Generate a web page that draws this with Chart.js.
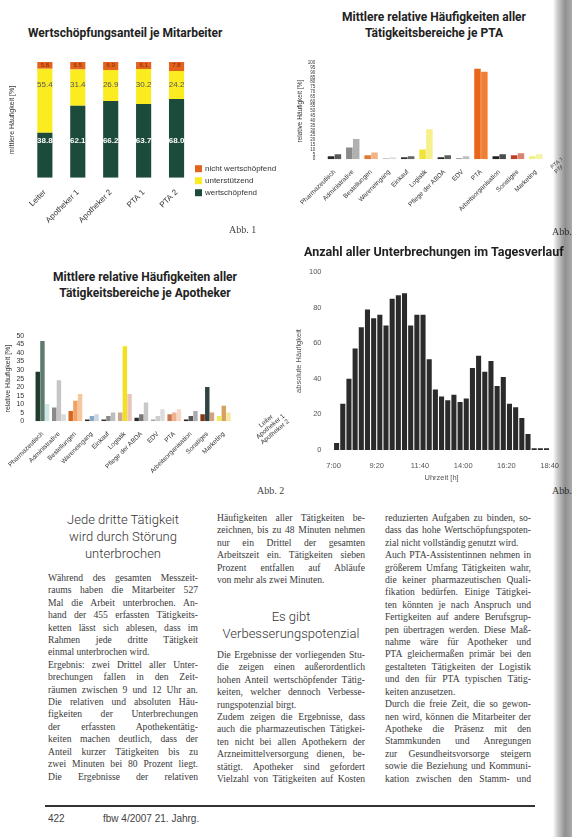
<!DOCTYPE html>
<html lang="de">
<head>
<meta charset="UTF-8">
<title>Wertschöpfung und Unterbrechungen in der Apotheke</title>
<script src="https://cdn.jsdelivr.net/npm/chart.js"></script>
<style>
    body { margin: 0; width: 572px; height: 837px; position: relative; overflow: hidden; background: #fff; color: #333; font-family: 'Liberation Serif', serif; }
    .box { position: absolute; }
    .ctitle { position: absolute; font-family: Roboto, 'Liberation Sans', sans-serif; font-weight: bold; font-size: 12px; line-height: 16px; color: #222; text-align: center; white-space: nowrap; }
    .cap { position: absolute; font-size: 10px; color: #444; white-space: nowrap; }
    .col { position: absolute; font-size: 9.6px; line-height: 12.4px; color: #3a3a3a; }
    .col div { text-align: justify; text-align-last: justify; white-space: nowrap; overflow: hidden; }
    .col div.end { text-align-last: left; }
    .head { position: absolute; font-family: Roboto, 'Liberation Sans', sans-serif; font-weight: 300; font-size: 13px; line-height: 17px; text-align: center; color: #333; }
    .rule { position: absolute; left: 45px; top: 805px; width: 490px; height: 2px; background: #333; }
    .foot { position: absolute; top: 813px; font-family: 'Liberation Sans', sans-serif; font-size: 10px; color: #444; }
    .shade { position: absolute; left: 553px; top: 0; width: 19px; height: 837px; mix-blend-mode: multiply;
             background: linear-gradient(to right, rgba(255,255,255,0) 0, #d2d2d2 4px, #a8a8a8 9px, #909090 12px, #aaaaaa 19px); }
</style>
</head>
<body>

<div class="ctitle" style="left:28px; top:25px;">Wertschöpfungsanteil je Mitarbeiter</div>
<div class="box" style="left:0; top:50px; width:282px; height:181px;"><canvas id="chartShare"></canvas></div>
<div class="cap" style="left:229px; top:224px;">Abb. 1</div>

<div class="ctitle" style="left:334px; top:9px; width:200px;">Mittlere relative Häufigkeiten aller<br>Tätigkeitsbereiche je PTA</div>
<div class="box" style="left:290px; top:44px; width:272px; height:172px;"><canvas id="chartPta"></canvas></div>
<div class="cap" style="left:552px; top:226px;">Abb. 3</div>

<div class="ctitle" style="left:45px; top:269px; width:200px;">Mittlere relative Häufigkeiten aller<br>Tätigkeitsbereiche je Apotheker</div>
<div class="box" style="left:0; top:300px; width:290px; height:178px;"><canvas id="chartApo"></canvas></div>
<div class="cap" style="left:257px; top:485px;">Abb. 2</div>

<div class="ctitle" style="left:304px; top:244px; font-size:12.5px;">Anzahl aller Unterbrechungen im Tagesverlauf</div>
<div class="box" style="left:290px; top:262px; width:272px; height:220px;"><canvas id="chartBreaks"></canvas></div>
<div class="cap" style="left:552px; top:485px;">Abb. 4</div>

<div class="head" style="left:48px; top:511px; width:150px;">Jede dritte Tätigkeit<br>wird durch Störung<br>unterbrochen</div>

<div class="col" style="left:48px; top:572px; width:150px;">
    <div>Während des gesamten Messzeit-</div>
    <div>raums haben die Mitarbeiter 527</div>
    <div>Mal die Arbeit unterbrochen. An-</div>
    <div>hand der 455 erfassten Tätigkeits-</div>
    <div>ketten lässt sich ablesen, dass im</div>
    <div>Rahmen jede dritte Tätigkeit</div>
    <div class="end">einmal unterbrochen wird.</div>
    <div>Ergebnis: zwei Drittel aller Unter-</div>
    <div>brechungen fallen in den Zeit-</div>
    <div>räumen zwischen 9 und 12 Uhr an.</div>
    <div>Die relativen und absoluten Häu-</div>
    <div>figkeiten der Unterbrechungen</div>
    <div>der erfassten Apothekentätig-</div>
    <div>keiten machen deutlich, dass der</div>
    <div>Anteil kurzer Tätigkeiten bis zu</div>
    <div>zwei Minuten bei 80 Prozent liegt.</div>
    <div>Die Ergebnisse der relativen</div>
</div>

<div class="col" style="left:217px; top:512px; width:148px;">
    <div>Häufigkeiten aller Tätigkeiten be-</div>
    <div>zeichnen, bis zu 48 Minuten nehmen</div>
    <div>nur ein Drittel der gesamten</div>
    <div>Arbeitszeit ein. Tätigkeiten sieben</div>
    <div>Prozent entfallen auf Abläufe</div>
    <div class="end">von mehr als zwei Minuten.</div>
</div>

<div class="head" style="left:217px; top:608px; width:148px;">Es gibt<br>Verbesserungspotenzial</div>

<div class="col" style="left:217px; top:649px; width:148px;">
    <div>Die Ergebnisse der vorliegenden Stu-</div>
    <div>die zeigen einen außerordentlich</div>
    <div>hohen Anteil wertschöpfender Tätig-</div>
    <div>keiten, welcher dennoch Verbesse-</div>
    <div class="end">rungspotenzial birgt.</div>
    <div>Zudem zeigen die Ergebnisse, dass</div>
    <div>auch die pharmazeutischen Tätigkei-</div>
    <div>ten nicht bei allen Apothekern der</div>
    <div>Arzneimittelversorgung dienen, be-</div>
    <div>stätigt. Apotheker sind gefordert</div>
    <div>Vielzahl von Tätigkeiten auf Kosten</div>
</div>

<div class="col" style="left:385px; top:512px; width:146px;">
    <div>reduzierten Aufgaben zu binden, so-</div>
    <div>dass das hohe Wertschöpfungspoten-</div>
    <div class="end">zial nicht vollständig genutzt wird.</div>
    <div>Auch PTA-Assistentinnen nehmen in</div>
    <div>größerem Umfang Tätigkeiten wahr,</div>
    <div>die keiner pharmazeutischen Quali-</div>
    <div>fikation bedürfen. Einige Tätigkei-</div>
    <div>ten könnten je nach Anspruch und</div>
    <div>Fertigkeiten auf andere Berufsgrup-</div>
    <div>pen übertragen werden. Diese Maß-</div>
    <div>nahme wäre für Apotheker und</div>
    <div>PTA gleichermaßen primär bei den</div>
    <div>gestalteten Tätigkeiten der Logistik</div>
    <div>und den für PTA typischen Tätig-</div>
    <div class="end">keiten anzusetzen.</div>
    <div>Durch die freie Zeit, die so gewon-</div>
    <div>nen wird, können die Mitarbeiter der</div>
    <div>Apotheke die Präsenz mit den</div>
    <div>Stammkunden und Anregungen</div>
    <div>zur Gesundheitsvorsorge steigern</div>
    <div>sowie die Beziehung und Kommuni-</div>
    <div>kation zwischen den Stamm- und</div>
</div>

<div class="rule"></div>
<div class="foot" style="left:48px;">422</div>
<div class="foot" style="left:103px;">fbw 4/2007 21. Jahrg.</div>
<div class="shade"></div>

<script>
    // Abb. 1 - Wertschöpfungsanteil je Mitarbeiter (%)
    const staff = ['Leiter', 'Apotheker 1', 'Apotheker 2', 'PTA 1', 'PTA 2'];
    const valueAdding = [38.8, 62.1, 66.2, 63.7, 68.0];
    const supporting = [55.4, 31.4, 26.9, 30.2, 24.2];
    const nonValue = [5.8, 6.5, 6.9, 6.1, 7.8];

    // Abb. 2 / 3 - mittlere relative Häufigkeiten je Tätigkeitsbereich (%)
    const areas = ['Pharmazeutisch', 'Administrative', 'Bestellungen', 'Wareneingang', 'Einkauf', 'Logistik',
        'Pflege der ABDA', 'EDV', 'PTA', 'Arbeitsorganisation', 'Sonstiges', 'Marketing'];
    const leiter = [29, 8, 6, 1, 1, 5, 2, 1, 4, 1, 4, 3];
    const apotheker1 = [47, 24, 12, 3, 3, 44, 4, 3, 5, 3, 20, 9];
    const apotheker2 = [10, 4, 16, 4, 5, 16, 11, 7, 7, 6, 5, 5];
    const pta1 = [3, 12, 4, 1, 2, 10, 2, 1, 94, 3, 4, 3];
    const pta2 = [5, 21, 7, 2, 3, 31, 4, 3, 91, 5, 6, 5];

    // Abb. 4 - Unterbrechungen je 20-Minuten-Intervall
    const binStart = ['7:00', '7:20', '7:40', '8:00', '8:20', '8:40', '9:00', '9:20', '9:40', '10:00',
        '10:20', '10:40', '11:00', '11:20', '11:40', '12:00', '12:20', '12:40', '13:00', '13:20',
        '13:40', '14:00', '14:20', '14:40', '15:00', '15:20', '15:40', '16:00', '16:20', '16:40',
        '17:00', '17:20', '17:40', '18:00', '18:20'];
    const interruptions = [4, 26, 40, 57, 69, 79, 74, 76, 70, 85,
        87, 88, 70, 76, 76, 51, 34, 30, 28, 31,
        27, 29, 46, 53, 44, 50, 36, 41, 26, 24,
        18, 9, 1, 1, 1];

    Chart.defaults.font.family = "'Liberation Sans', 'DejaVu Sans', sans-serif";
    Chart.defaults.color = '#333';
    Chart.defaults.animation = false;
    Chart.defaults.plugins.legend.display = false;
    Chart.defaults.plugins.tooltip.enabled = false;

    const noGrid = { display: false };
    const noBorder = { display: false };

    // Werte in die Segmente schreiben
    const segLabels = {
        id: 'segLabels',
        afterDatasetsDraw(chart) {
            const ctx = chart.ctx;
            const y = chart.scales.y;
            chart.data.datasets.forEach((ds, i) => {
                chart.getDatasetMeta(i).data.forEach((bar, j) => {
                    ctx.save();
                    ctx.font = ds.labelFont;
                    ctx.fillStyle = ds.labelColor;
                    ctx.textAlign = 'center';
                    ctx.textBaseline = 'middle';
                    ctx.fillText(ds.data[j].toFixed(1), bar.x, y.getPixelForValue(ds.labelPos));
                    ctx.restore();
                });
            });
        }
    };

    // Legende mit Kästchen rechts unten neben den Balken
    const boxLegend = {
        id: 'boxLegend',
        afterDraw(chart, args, opts) {
            const ctx = chart.ctx;
            const x0 = chart.chartArea.right + opts.dx;
            let y0 = chart.chartArea.bottom + opts.dy;
            ctx.save();
            ctx.font = opts.font;
            ctx.textBaseline = 'middle';
            chart.data.datasets.slice().reverse().forEach(ds => {
                ctx.fillStyle = ds.backgroundColor;
                ctx.fillRect(x0, y0 - 3.5, 7, 7);
                ctx.fillStyle = '#333';
                ctx.fillText(ds.label, x0 + 10, y0);
                y0 += opts.lineHeight;
            });
            ctx.restore();
        }
    };

    // schräg gestellte Legende am Ende der Rubrikenachse (wie im 3D-Diagramm)
    const slantLegend = {
        id: 'slantLegend',
        afterDraw(chart, args, opts) {
            const ctx = chart.ctx;
            ctx.save();
            ctx.translate(chart.chartArea.right + opts.dx, chart.chartArea.bottom + opts.dy);
            ctx.rotate(-opts.angle * Math.PI / 180);
            ctx.font = opts.font;
            ctx.fillStyle = '#333';
            ctx.textAlign = 'center';
            ctx.textBaseline = 'middle';
            chart.data.datasets.forEach((ds, i) => ctx.fillText(ds.label, 0, i * opts.lineHeight));
            ctx.restore();
        }
    };

    new Chart(document.getElementById('chartShare'), {
        type: 'bar',
        data: {
            labels: staff,
            datasets: [
                { label: 'wertschöpfend', data: valueAdding, backgroundColor: '#1d4b3b',
                  labelPos: 32, labelColor: '#ffffff', labelFont: 'bold 8px Liberation Sans' },
                { label: 'unterstützend', data: supporting, backgroundColor: '#fbec22',
                  labelPos: 80, labelColor: '#555', labelFont: '8px Liberation Sans' },
                { label: 'nicht wertschöpfend', data: nonValue, backgroundColor: '#e3621e',
                  labelPos: 97, labelColor: '#7a2a08', labelFont: '6px Liberation Sans' }
            ]
        },
        options: {
            responsive: true,
            maintainAspectRatio: false,
            layout: { padding: { left: 4, right: 89, top: 12, bottom: 4 } },
            datasets: { bar: { barPercentage: 0.46, categoryPercentage: 1 } },
            scales: {
                x: { stacked: true, grid: noGrid, border: noBorder,
                     ticks: { maxRotation: 45, minRotation: 45, font: { size: 8 }, padding: 2 } },
                y: { stacked: true, min: 0, max: 100, grid: noGrid, border: noBorder,
                     ticks: { display: false },
                     title: { display: true, text: 'mittlere Häufigkeit [%]', font: { size: 7 }, padding: 4 } }
            },
            plugins: {
                boxLegend: { dx: 2, dy: -9, lineHeight: 12, font: '8px Liberation Sans' }
            }
        },
        plugins: [segLabels, boxLegend]
    });

    const ptaColors = [
        ['#2a2a2a', '#5a5a5a'], ['#8a8a8a', '#b0b0b0'], ['#e07a36', '#f2b487'], ['#bdbdbd', '#dedede'],
        ['#333333', '#666666'], ['#f2e33a', '#f7f08a'], ['#262626', '#5e5e5e'], ['#8c8c8c', '#c0c0c0'],
        ['#e8661a', '#f07f35'], ['#222222', '#4a4a4a'], ['#c23d2a', '#d88472'], ['#eef07c', '#f4f4a8']
    ];

    new Chart(document.getElementById('chartPta'), {
        type: 'bar',
        data: {
            labels: areas,
            datasets: [
                { label: 'PTA 1', data: pta1, backgroundColor: ptaColors.map(c => c[0]) },
                { label: 'PTA 2', data: pta2, backgroundColor: ptaColors.map(c => c[1]) }
            ]
        },
        options: {
            responsive: true,
            maintainAspectRatio: false,
            layout: { padding: { left: 4, right: 17, top: 19, bottom: 2 } },
            datasets: { bar: { barPercentage: 0.95, categoryPercentage: 0.75 } },
            scales: {
                x: { grid: noGrid, border: noBorder,
                     ticks: { maxRotation: 45, minRotation: 45, font: { size: 6.5 }, padding: 1, autoSkip: false } },
                y: { min: 0, max: 100, grid: noGrid, border: noBorder,
                     ticks: { stepSize: 5, autoSkip: false, font: { size: 4.5 }, padding: 2 },
                     title: { display: true, text: 'relative Häufigkeit [%]', font: { size: 6.5 }, padding: 2 } }
            },
            plugins: {
                slantLegend: { dx: 12, dy: 4, angle: 40, lineHeight: 6, font: '5.5px Liberation Sans' }
            }
        },
        plugins: [slantLegend]
    });

    const apoColors = [
        ['#1f3a2e', '#5e7b6e', '#cfe6e6'], ['#8a8a8a', '#c6c6c6', '#dadada'], ['#d9661f', '#f2a066', '#f7c69a'],
        ['#2a2a2a', '#8aa6c2', '#c6d6e6'], ['#333333', '#8a8a8a', '#bdbdbd'], ['#c8a890', '#f5e020', '#e8c4bc'],
        ['#2a2a2a', '#777777', '#c8c8c8'], ['#a8a8a8', '#cccccc', '#dcdcdc'], ['#c87850', '#f0b090', '#f7d8c8'],
        ['#222222', '#555555', '#ababab'], ['#8a3414', '#2f4343', '#d3a27e'], ['#eeee5a', '#d8a060', '#f4e8a0']
    ];

    new Chart(document.getElementById('chartApo'), {
        type: 'bar',
        data: {
            labels: areas,
            datasets: [
                { label: 'Leiter', data: leiter, backgroundColor: apoColors.map(c => c[0]) },
                { label: 'Apotheker 1', data: apotheker1, backgroundColor: apoColors.map(c => c[1]) },
                { label: 'Apotheker 2', data: apotheker2, backgroundColor: apoColors.map(c => c[2]) }
            ]
        },
        options: {
            responsive: true,
            maintainAspectRatio: false,
            layout: { padding: { left: 2, right: 58, top: 36, bottom: 2 } },
            datasets: { bar: { barPercentage: 0.95, categoryPercentage: 0.85 } },
            scales: {
                x: { grid: noGrid, border: noBorder,
                     ticks: { maxRotation: 45, minRotation: 45, font: { size: 6.5 }, padding: 1, autoSkip: false } },
                y: { min: 0, max: 50, grid: noGrid, border: noBorder,
                     ticks: { stepSize: 5, autoSkip: false, font: { size: 7 }, padding: 2 },
                     title: { display: true, text: 'relative Häufigkeit [%]', font: { size: 7 }, padding: 2 } }
            },
            plugins: {
                slantLegend: { dx: 34, dy: 0, angle: 40, lineHeight: 7, font: '6.5px Liberation Sans' }
            }
        },
        plugins: [slantLegend]
    });

    function toMinutes(t) {
        const [h, m] = t.split(':').map(Number);
        return (h - 7) * 60 + m;
    }

    new Chart(document.getElementById('chartBreaks'), {
        type: 'bar',
        data: {
            datasets: [{
                label: 'Unterbrechungen',
                data: interruptions.map((n, i) => ({ x: toMinutes(binStart[i]) + 10, y: n })),
                backgroundColor: '#2b2b2b'
            }]
        },
        options: {
            responsive: true,
            maintainAspectRatio: false,
            layout: { padding: { left: 2, right: 0, top: 10, bottom: 0 } },
            datasets: { bar: { barPercentage: 0.82, categoryPercentage: 1 } },
            scales: {
                x: { type: 'linear', offset: false, min: 0, max: 700, grid: { display: false, offset: false }, border: noBorder,
                     ticks: { stepSize: 140, font: { size: 7.5 }, color: '#555', maxRotation: 0, padding: 3,
                              callback: v => Math.floor(7 + v / 60) + ':' + String(v % 60).padStart(2, '0') },
                     title: { display: true, text: 'Uhrzeit [h]', font: { size: 7.5 }, color: '#555', padding: 0 } },
                y: { min: 0, max: 100, grid: noGrid, border: noBorder,
                     ticks: { stepSize: 20, font: { size: 7.5 }, color: '#555', padding: 4 },
                     title: { display: true, text: 'absolute Häufigkeit', font: { size: 7.5 }, color: '#555', padding: 2 } }
            }
        }
    });
</script>
</body>
</html>
